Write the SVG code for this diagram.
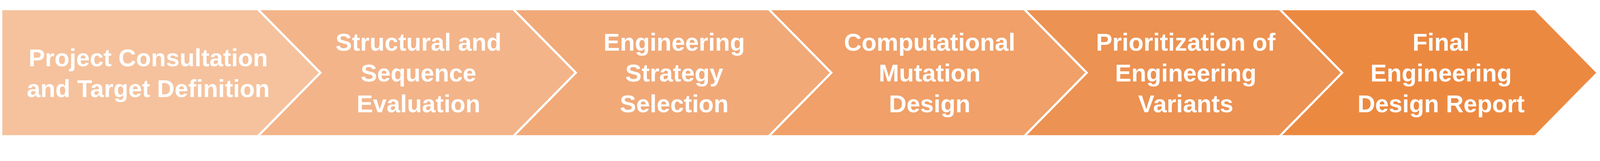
<svg xmlns="http://www.w3.org/2000/svg" width="4511" height="413" viewBox="0 0 4511 413">
<style>
.shape{stroke:#FFFFFF;stroke-width:6;stroke-linejoin:miter}
.lbl{font-family:"Liberation Sans",Arial,sans-serif;font-weight:bold;font-size:69px;fill:#FFFFFF;text-anchor:middle}
@media (max-width: 4500px) { svg{width:100vw;height:auto} }
</style>
<rect x="0" y="0" width="4511" height="413" fill="#FFFFFF"/>
<g id="connectors"></g>
<g id="step1">
<polygon class="shape" fill="#F5C29D" points="3.4,26 727,26 903.4,205.5 727,385 3.4,385"/>
<text class="lbl" x="418" y="187">Project Consultation</text>
<text class="lbl" x="418" y="274">and Target Definition</text>
</g>
<g id="step2">
<polygon class="shape" fill="#F3B489" points="727,26 1447.2,26 1623.6,205.5 1447.2,385 727,385 903.4,205.5"/>
<text class="lbl" x="1180" y="143.5">Structural and</text>
<text class="lbl" x="1180" y="230.3">Sequence</text>
<text class="lbl" x="1180" y="317.3">Evaluation</text>
</g>
<g id="step3">
<polygon class="shape" fill="#F1A978" points="1447.2,26 2167.4,26 2343.8,205.5 2167.4,385 1447.2,385 1623.6,205.5"/>
<text class="lbl" x="1901" y="143.5">Engineering</text>
<text class="lbl" x="1901" y="230.3">Strategy</text>
<text class="lbl" x="1901" y="317.3">Selection</text>
</g>
<g id="step4">
<polygon class="shape" fill="#F0A068" points="2167.4,26 2887.6,26 3064,205.5 2887.6,385 2167.4,385 2343.8,205.5"/>
<text class="lbl" x="2621" y="143.5">Computational</text>
<text class="lbl" x="2621" y="230.3">Mutation</text>
<text class="lbl" x="2621" y="317.3">Design</text>
</g>
<g id="step5">
<polygon class="shape" fill="#EC9252" points="2887.6,26 3607.8,26 3784.2,205.5 3607.8,385 2887.6,385 3064,205.5"/>
<text class="lbl" x="3343" y="143.5">Prioritization of</text>
<text class="lbl" x="3343" y="230.3">Engineering</text>
<text class="lbl" x="3343" y="317.3">Variants</text>
</g>
<g id="step6">
<polygon class="shape" fill="#EC8941" points="3607.8,26 4328,26 4504.4,205.5 4328,385 3607.8,385 3784.2,205.5"/>
<text class="lbl" x="4063" y="143.5">Final</text>
<text class="lbl" x="4063" y="230.3">Engineering</text>
<text class="lbl" x="4063" y="317.3">Design Report</text>
</g>
</svg>
